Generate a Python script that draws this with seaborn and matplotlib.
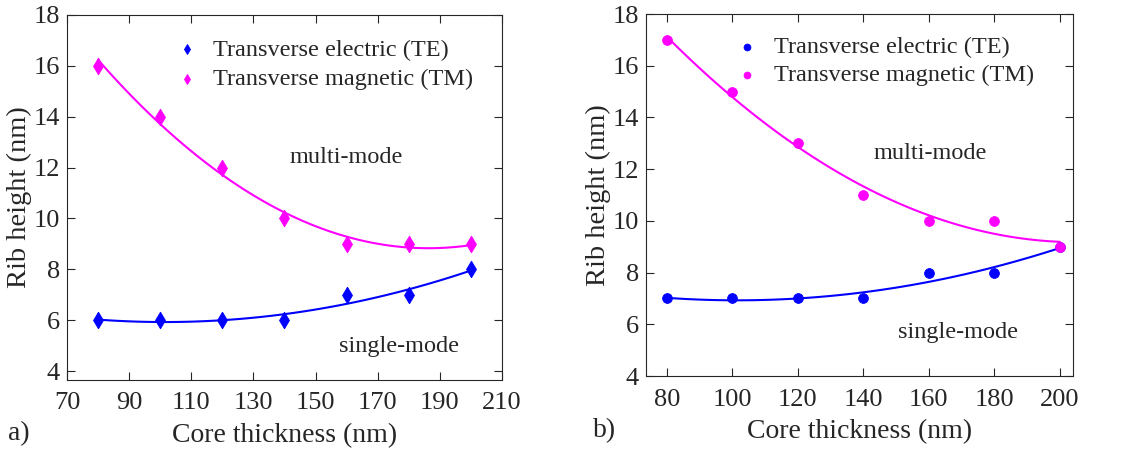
import numpy as np
import pandas as pd
import matplotlib
matplotlib.use("Agg")
import matplotlib.pyplot as plt
import seaborn as sns

thickness = [80, 100, 120, 140, 160, 180, 200]
te_a = [6, 6, 6, 6, 7, 7, 8]
tm_a = [16, 14, 12, 10, 9, 9, 9]
te_b = [7, 7, 7, 7, 8, 8, 9]
tm_b = [17, 15, 13, 11, 10, 10, 9]

lab_te = "Transverse electric (TE)"
lab_tm = "Transverse magnetic (TM)"

sns.set_style("ticks")
plt.rcParams["font.family"] = ["Liberation Serif", "DejaVu Serif"]

fig = plt.figure(figsize=(11.31, 4.5), dpi=100)
ax1 = fig.add_axes([0.0592, 0.1556, 0.3846, 0.8111])
ax2 = fig.add_axes([0.5712, 0.1644, 0.3775, 0.8044])

blue = (0, 0, 1)
mag = (1, 0, 1)
dark = "#262626"


def panel(ax, te, tm, marker, msize):
    df = pd.DataFrame({"x": thickness, "te": te, "tm": tm})
    sns.regplot(data=df, x="x", y="te", order=2, ci=None, scatter=False,
                color=blue, line_kws={"lw": 1.5}, ax=ax)
    sns.regplot(data=df, x="x", y="tm", order=2, ci=None, scatter=False,
                color=mag, line_kws={"lw": 1.5}, ax=ax)
    sns.scatterplot(data=df, x="x", y="te", marker=marker, s=msize, color=blue,
                    edgecolor=blue, label=lab_te, ax=ax, zorder=3)
    sns.scatterplot(data=df, x="x", y="tm", marker=marker, s=msize, color=mag,
                    edgecolor=mag, label=lab_tm, ax=ax, zorder=3)
    ax.set_xlabel("Core thickness (nm)", fontsize=20, color=dark, labelpad=6)
    ax.set_ylabel("Rib height (nm)", fontsize=20.5, color=dark, labelpad=1)
    ax.tick_params(direction="in", top=True, right=True, labelsize=19,
                   colors=dark, length=6, width=0.8)
    ax.tick_params(axis="x", pad=9)
    ax.tick_params(axis="y", pad=5)
    for s in ax.spines.values():
        s.set_color(dark)
        s.set_linewidth(0.8)
    ax.set_yticks(range(4, 19, 2))


panel(ax1, te_a, tm_a, "d", 70)
ax1.set_xlim(70, 210)
ax1.set_ylim(3.65, 18)
ax1.set_xticks(range(70, 211, 20))
ax1.legend(loc="upper right", bbox_to_anchor=(0.985, 0.995), frameon=False,
           fontsize=17.5, handletextpad=0.1, labelspacing=0.3, markerscale=0.6)
ax1.text(160, 12.4, "multi-mode", fontsize=17.5, ha="center", va="center")
ax1.text(177, 4.95, "single-mode", fontsize=17.5, ha="center", va="center")

panel(ax2, te_b, tm_b, "o", 50)
ax2.set_xlim(73.6, 204)
ax2.set_ylim(4, 18)
ax2.set_xticks(range(80, 201, 20))
ax2.legend(loc="upper right", bbox_to_anchor=(0.96, 1.0), frameon=False,
           fontsize=17.5, handletextpad=0.1, labelspacing=0.25, markerscale=0.7)
ax2.text(160.3, 12.6, "multi-mode", fontsize=17.5, ha="center", va="center")
ax2.text(168.9, 5.7, "single-mode", fontsize=17.5, ha="center", va="center")

fig.text(0.007, 0.022, "a)", fontsize=20, color=dark)
fig.text(0.524, 0.028, "b)", fontsize=20, color=dark)

fig.savefig("out.png", dpi=100)
